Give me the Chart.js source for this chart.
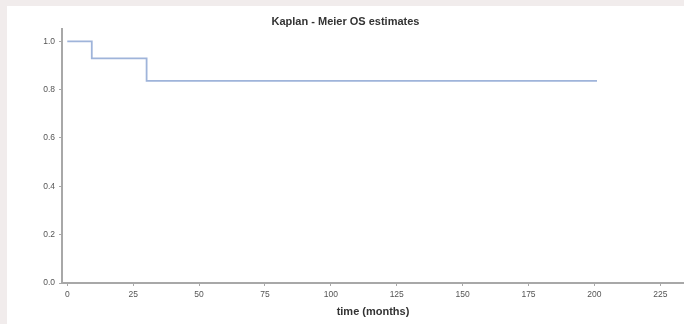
<!DOCTYPE html>
<html>
<head>
<meta charset="utf-8">
<script src="https://cdn.jsdelivr.net/npm/chart.js@4/dist/chart.umd.min.js"></script>
<style>
  html, body { margin: 0; padding: 0; }
  body { width: 684px; height: 324px; background: #f1ecec; position: relative; overflow: hidden; }
  #wrap { position: absolute; left: 7px; top: 6px; width: 677px; height: 318px; background: #ffffff; }
</style>
</head>
<body>
<div id="wrap"><canvas id="km" width="677" height="318"></canvas></div>
<script>
// Kaplan-Meier steps
const months = [0, 9.3, 30.1, 201];
const survival = [1.0, 0.929, 0.836, 0.836];

const xTicks = [0, 25, 50, 75, 100, 125, 150, 175, 200, 225];
const yTicks = [0, 0.2, 0.4, 0.6, 0.8, 1.0];

const axisColor = "#a8a8a8";
const tickFont = { family: "Liberation Sans", size: 8.5 };

const points = months.map((m, i) => ({ x: m, y: survival[i] }));

new Chart(document.getElementById("km").getContext("2d"), {
  type: "line",
  data: {
    datasets: [
      {
        label: "OS",
        data: points,
        stepped: true,
        borderColor: "#9fb4da",
        borderWidth: 1.8,
        pointRadius: 0,
        fill: false,
      },
    ],
  },
  options: {
    responsive: false,
    animation: false,
    layout: { padding: { left: 0, right: 0, top: 0, bottom: 0 } },
    plugins: {
      legend: { display: false },
      tooltip: { enabled: false },
      title: {
        display: true,
        text: "Kaplan - Meier OS estimates",
        color: "#333333",
        font: { family: "Liberation Sans", size: 11, weight: "bold" },
        padding: { top: 9, bottom: 1 },
      },
    },
    scales: {
      x: {
        type: "linear",
        min: -2,
        max: 234,
        afterBuildTicks: (scale) => {
          scale.ticks = xTicks.map((v) => ({ value: v }));
        },
        afterFit: (scale) => {
          scale.height = 41;
        },
        grid: {
          drawOnChartArea: false,
          drawTicks: true,
          tickLength: 3,
          color: axisColor,
        },
        border: { color: axisColor, width: 2 },
        ticks: {
          color: "#555555",
          font: tickFont,
          padding: 4,
          maxRotation: 0,
          autoSkip: false,
        },
        title: {
          display: true,
          text: "time (months)",
          color: "#333333",
          font: { family: "Liberation Sans", size: 11, weight: "bold" },
          padding: { top: 0, bottom: 5 },
        },
      },
      y: {
        type: "linear",
        min: 0,
        max: 1.05,
        afterBuildTicks: (scale) => {
          scale.ticks = yTicks.map((v) => ({ value: v }));
        },
        afterFit: (scale) => {
          scale.width = 55;
        },
        grid: {
          drawOnChartArea: false,
          drawTicks: true,
          tickLength: 3,
          color: axisColor,
        },
        border: { color: axisColor, width: 2 },
        ticks: {
          color: "#555555",
          font: tickFont,
          padding: 4,
          callback: (v) => Number(v).toFixed(1),
        },
      },
    },
  },
});
</script>
</body>
</html>
